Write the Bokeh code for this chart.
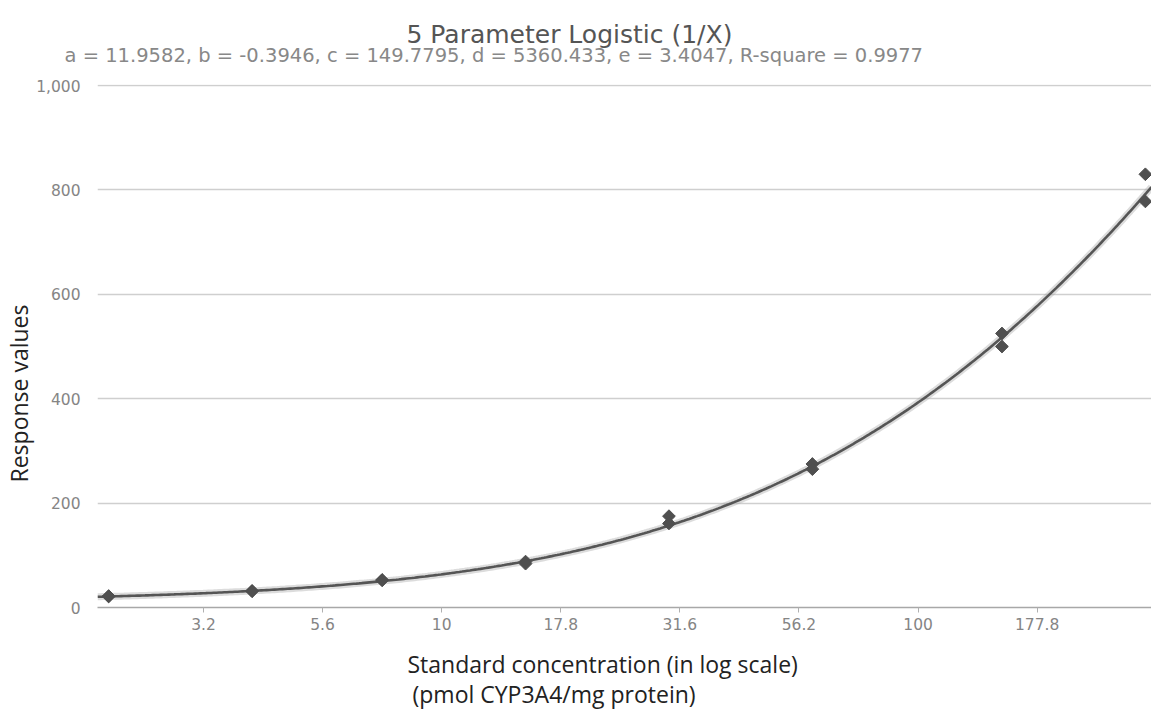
import numpy as np
from bokeh.plotting import figure
from bokeh.models import (Range1d, FixedTicker, CustomJSTickFormatter,
                          NumeralTickFormatter, Title, ColumnDataSource)
from bokeh.embed import file_html
from bokeh.resources import INLINE

# Standards: concentration (pmol CYP3A4/mg protein) and replicate responses
concentration = [2, 2, 4, 4, 7.5, 7.5, 15, 15, 30, 30, 60, 60, 150, 150, 300, 300]
response = [22, 21, 32, 31, 53, 52, 88, 84, 175, 161, 275, 265, 525, 500, 830, 778]

# Fitted 5PL parameters (1/X weighting)
fit_a = 11.9582
fit_b = -0.3946
fit_c = 149.7795
fit_d = 5360.433
fit_e = 3.4047
r_square = 0.9977

# Log-scale tick exponents (quarter decades)
tick_exponents = [0.5, 0.75, 1.0, 1.25, 1.5, 1.75, 2.0, 2.25]
y_ticks = [0, 200, 400, 600, 800, 1000]

x_lo, x_hi = 1.895, 309.0


def five_pl(x):
    return fit_a + (fit_d - fit_a) / (1.0 + (x / fit_c) ** fit_b) ** fit_e


xs = np.logspace(np.log10(x_lo), np.log10(x_hi), 400)
curve = ColumnDataSource(dict(x=xs, y=five_pl(xs)))
pts = ColumnDataSource(dict(x=concentration, y=response))

p = figure(width=1151, height=709, x_axis_type="log", title=None,
           x_range=Range1d(x_lo, x_hi), y_range=Range1d(0, 1002),
           output_backend="svg", toolbar_location=None,
           min_border_left=97, min_border_right=0,
           min_border_top=84, min_border_bottom=102)
p.outline_line_color = None
p.background_fill_color = "white"
p.border_fill_color = "white"

# grid
p.xgrid.grid_line_color = None
p.ygrid.grid_line_color = "#cfcfcf"
p.ygrid.grid_line_width = 1.5

tick_font = "DejaVu Sans"
tick_size = "15.5px"
tick_color = "#858585"

# x axis
xa = p.xaxis[0]
xa.ticker = FixedTicker(ticks=[10 ** e for e in tick_exponents], minor_ticks=[])
xa.formatter = CustomJSTickFormatter(code="""
    const r = Math.round(tick * 10) / 10;
    return (Math.abs(r - Math.round(r)) < 1e-9) ? r.toFixed(0) : r.toFixed(1);
""")
xa.axis_line_color = "#a8a8a8"
xa.axis_line_width = 1.5
xa.major_tick_line_color = "#b0b0b0"
xa.major_tick_in = 0
xa.major_tick_out = 5
xa.minor_tick_line_color = None
xa.major_label_standoff = 5
xa.major_label_text_font = tick_font
xa.major_label_text_font_size = tick_size
xa.major_label_text_color = tick_color

# y axis
ya = p.yaxis[0]
ya.ticker = FixedTicker(ticks=y_ticks, minor_ticks=[])
ya.formatter = NumeralTickFormatter(format="0,0")
ya.axis_line_color = None
ya.major_tick_line_color = None
ya.minor_tick_line_color = None
ya.major_label_standoff = 11
ya.major_label_text_font = tick_font
ya.major_label_text_font_size = tick_size
ya.major_label_text_color = tick_color

# fitted curve with a soft shadow
p.line("x", "y", source=curve, line_color="#9a9a9a", line_width=7, line_alpha=0.35)
p.line("x", "y", source=curve, line_color="#555555", line_width=2.6)

# standards
p.scatter("x", "y", source=pts, marker="square", angle=np.pi / 4,
          size=9, color="#4f4f4f")

# titles and axis titles
subtitle = (f"a = {fit_a}, b = {fit_b}, c = {fit_c}, d = {fit_d}, "
            f"e = {fit_e}, R-square = {r_square}")

p.add_layout(Title(text=subtitle, align="left", offset=-33, standoff=35,
                   text_font="DejaVu Sans", text_font_size="19.5px",
                   text_font_style="normal", text_color="#888888"), "above")
p.add_layout(Title(text="5 Parameter Logistic (1/X)", align="left", offset=309,
                   standoff=-49, text_font="DejaVu Sans",
                   text_font_size="25px", text_font_style="normal",
                   text_color="#555555"), "above")

p.add_layout(Title(text="Standard concentration (in log scale)", align="left",
                   offset=310, standoff=26, text_font="Open Sans",
                   text_font_size="23px", text_font_style="normal",
                   text_color="#222222"), "below")
p.add_layout(Title(text="(pmol CYP3A4/mg protein)", align="left",
                   offset=315, standoff=-33, text_font="Open Sans",
                   text_font_size="23px", text_font_style="normal",
                   text_color="#222222"), "below")

p.add_layout(Title(text="Response values", align="left", offset=125,
                   standoff=-2, text_font="Open Sans",
                   text_font_size="23px", text_font_style="normal",
                   text_color="#222222"), "left")

open("out.html", "w").write(file_html(p, INLINE))
